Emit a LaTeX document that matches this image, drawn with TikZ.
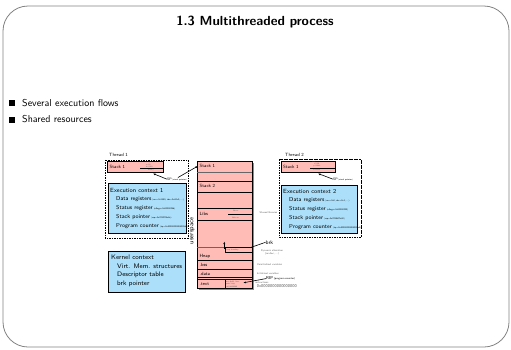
\documentclass[tikz,border=0pt]{standalone}
\usetikzlibrary{arrows.meta}
\definecolor{pinkfill}{RGB}{255,187,181}
\definecolor{bluefill}{RGB}{172,223,250}
\definecolor{framegray}{RGB}{130,130,130}
\begin{document}
\begin{tikzpicture}[x=1pt,y=-1pt,
  lbl/.style={anchor=west,inner sep=0pt,font=\sffamily\fontsize{4.6}{5.5}\selectfont},
  ctxtitle/.style={anchor=west,inner sep=0pt,font=\sffamily\fontsize{6}{7}\selectfont},
  ctxitem/.style={anchor=west,inner sep=0pt,font=\sffamily\fontsize{5.7}{6.5}\selectfont},
  kitem/.style={anchor=west,inner sep=0pt,font=\sffamily\fontsize{6.6}{7.5}\selectfont},
  tinytxt/.style={anchor=west,inner sep=0pt,font=\sffamily\fontsize{1.8}{2.2}\selectfont,text=black!70},
  note/.style={anchor=west,inner sep=0pt,font=\sffamily\fontsize{2.6}{3}\selectfont,text=black!60},
  memcell/.style={draw=black,line width=0.8pt,fill=pinkfill},
  ctxbox/.style={draw=black,line width=0.7pt,fill=bluefill},
  thrbox/.style={draw=black,dash pattern=on 1.6pt off 0.9pt,line width=0.6pt},
  arr/.style={-{Latex[length=2.5pt,width=2pt]},line width=0.6pt},
  bul/.style={fill=black,inner sep=0pt,minimum size=6pt}]
\useasboundingbox (0,0) rectangle (511,349);
% frame
\draw[framegray,line width=0.8pt,rounded corners=25pt] (3,6) rectangle (509,347);
\node[font=\sffamily\bfseries\fontsize{13.2}{15}\selectfont,inner sep=0pt] (title) at (255,22) {1.3 Multithreaded process};
% bullets
\node[bul] (b1) at (12,103) {};
\node[anchor=west,inner sep=0pt,font=\sffamily\fontsize{10}{12}\selectfont] (t1) at (22,103) {Several execution flows};
\node[bul] (b2) at (12,119.5) {};
\node[anchor=west,inner sep=0pt,font=\sffamily\fontsize{10}{12}\selectfont] (t2) at (22,119.5) {Shared resources};

% ---------- memory column
\fill[black!45] (198.5,162.5) rectangle (253.5,290);
\draw[memcell] (197,161) rectangle (252,288.5);
\node[lbl] (ms1) at (199.5,166) {Stack 1};
\draw[black!60,line width=1pt] (197,172.7) -- (252,172.7);
\draw[line width=0.8pt] (197,181) -- (252,181);
\node[lbl] (ms2) at (199.5,186) {Stack 2};
\draw[line width=0.8pt] (197,192.7) -- (252,192.7);
\draw[line width=0.8pt] (197,208.3) -- (252,208.3);
\node[lbl] (mlibs) at (199.5,214) {Libs};
\draw[line width=0.6pt] (228,214) -- (252,214);
\node[tinytxt] (lib1) at (233,210.5) {libc.so};
\node[tinytxt] (lib2) at (232,217.5) {libfoo.so};
\draw[line width=0.8pt] (197,220) -- (252,220);
\draw[black!60,line width=0.8pt] (197,247.7) -- (252,247.7);
\draw[line width=0.5pt] (225.7,247.7) rectangle (252,252);
\node[tinytxt] (hb) at (226.5,249.9) {heap boundary};
\node[lbl] (mheap) at (199.5,256) {Heap};
\draw[line width=0.8pt] (197,260) -- (252,260);
\node[lbl] (mbss) at (199.5,264.6) {.bss};
\draw[line width=0.8pt] (197,269.2) -- (252,269.2);
\node[lbl] (mdata) at (199.5,273.8) {.data};
\draw[line width=0.8pt] (197,277.7) -- (252,277.7);
\draw[line width=0.8pt] (197,279.3) -- (252,279.3);
\node[lbl] (mtext) at (199.5,284.2) {.text};
\draw[line width=0.5pt] (225,279.3) -- (225,288.5);
\node[tinytxt] (i1) at (226,281.5) {mov 0x10, \%rax};
\node[tinytxt] (i2) at (226,284) {push \%rbp};
\node[tinytxt] (i3) at (226,286.5) {call 0x400560};
\coordinate (heaparrow) at (224.3,248.5);
\draw[arr] (heaparrow) -- (224.3,241.5);
\node[rotate=90,inner sep=0pt,font=\sffamily\fontsize{6.4}{7}\selectfont] (us) at (192.5,231) {userspace};

% annotations
\node[note] (shl) at (259.5,212.5) {Shared libraries};
\node[anchor=center,inner sep=0pt,align=center,font=\sffamily\fontsize{2.6}{3.8}\selectfont,text=black!60] (dyn) at (272,252.5) {Dynamic allocation\\(malloc, ...)};
\node[note] (unin) at (256.7,264.3) {Uninitialized variables};
\node[note] (init) at (256.7,273.3) {Initialized variables};
\node[anchor=west,inner sep=0pt,font=\sffamily\fontsize{4.2}{5}\selectfont] (rip) at (266,278.6) {RIP\,{\fontsize{2.6}{3}\selectfont(program counter)}};
\node[note] (instr) at (255,282.3) {instructions};
\node[anchor=west,inner sep=0pt,font=\sffamily\fontsize{4.2}{5}\selectfont,text=black!70] (zero) at (256.7,286) {0x0000000000000000};
\node[anchor=west,inner sep=0pt,font=\sffamily\fontsize{5.4}{6}\selectfont] (brk) at (265.5,242.3) {brk};
\draw[line width=0.6pt] (250,247.7) -- (brk.west);
\draw[arr] (rip.west) -- (243.3,282.8);

% ---------- thread 1
\node[lbl] (th1) at (109,155) {Thread 1};
\draw[thrbox] (105,159.8) rectangle (188,238);
\draw[memcell] (107,161) rectangle (163,172);
\node[lbl] (t1s) at (109.5,166.5) {Stack 1};
\node[tinytxt] (t1a) at (146,162.5) {foo()};
\node[tinytxt] (t1b) at (146,164.6) {a=12};
\node[tinytxt] (t1c) at (146,166.6) {b=1352};
\draw[line width=0.6pt] (140,168.2) -- (163,168.2);
\node[tinytxt] (t1d) at (148,170.4) {main()};
\node[anchor=west,inner sep=0pt,font=\sffamily\fontsize{3.6}{4}\selectfont] (sp1) at (167,179.2) {SP\,{\fontsize{2.2}{2.6}\selectfont(stack pointer)}};
\draw[arr] (sp1.west) -- (153,173.5);
\coordinate (t1out) at (178,177.5);
\draw[arr] (t1out) -- (ms1.west -| 198,0) ;
\draw[ctxbox] (108,183.5) rectangle (186,233.5);
\node[ctxtitle] (ec1) at (110,190) {Execution context 1};
\node[ctxitem] (d1) at (116,198.8) {Data registers\,{\fontsize{2.3}{2.5}\selectfont(rax=0x1350, rbx=0x42c0, ...)}};
\node[ctxitem] (s1) at (116,207.8) {Status register\,{\fontsize{2.3}{2.5}\selectfont(eflags=0x00000246)}};
\node[ctxitem] (p1) at (116,216.8) {Stack pointer\,{\fontsize{2.3}{2.5}\selectfont(rsp=0x7ffff7ff8e0c)}};
\node[ctxitem] (pc1) at (116,225.8) {Program counter\,{\fontsize{2.3}{2.5}\selectfont(rip=0x0000000000400560)}};

% ---------- thread 2
\node[lbl] (th2) at (285,155) {Thread 2};
\draw[thrbox] (279,159.5) rectangle (361,237);
\draw[memcell] (281,161) rectangle (335,172);
\node[lbl] (t2s) at (283,166.5) {Stack 1};
\node[tinytxt] (t2a) at (312,162.3) {bar()};
\node[tinytxt] (t2b) at (314,164.3) {x=158};
\node[tinytxt] (t2c) at (313,166.3) {y=11342};
\draw[line width=0.6pt] (310,168.2) -- (335,168.2);
\node[tinytxt] (t2d) at (313,170.4) {t=12352};
\draw[line width=0.6pt] (281,172) -- (335,172);
\node[anchor=west,inner sep=0pt,font=\sffamily\fontsize{3.6}{4}\selectfont] (sp2) at (333,179.2) {SP\,{\fontsize{2.2}{2.6}\selectfont(stack pointer)}};
\draw[arr] (sp2.west) -- (318,173.5);
\draw[ctxbox] (281,185) rectangle (357,233);
\node[ctxtitle] (ec2) at (283,191) {Execution context 2};
\node[ctxitem] (d2) at (289,199.8) {Data registers\,{\fontsize{2.3}{2.5}\selectfont(rax=0x0, rbx=0x1, ...)}};
\node[ctxitem] (s2) at (289,208.8) {Status register\,{\fontsize{2.3}{2.5}\selectfont(eflags=0x00000202)}};
\node[ctxitem] (p2) at (289,217.8) {Stack pointer\,{\fontsize{2.3}{2.5}\selectfont(rsp=0x7ffff6ff7e30)}};
\node[ctxitem] (pc2) at (289,226.8) {Program counter\,{\fontsize{2.3}{2.5}\selectfont(rip=0x00000000004005a4)}};

% ---------- kernel context
\draw[ctxbox] (108.3,251.7) rectangle (185,292.3);
\node[kitem] (kc) at (111,257.3) {Kernel context};
\node[kitem] (k1) at (117,266.3) {Virt. Mem. structures};
\node[kitem] (k2) at (117,275.3) {Descriptor table};
\node[kitem] (k3) at (117,284.3) {brk pointer};
\end{tikzpicture}
\end{document}
